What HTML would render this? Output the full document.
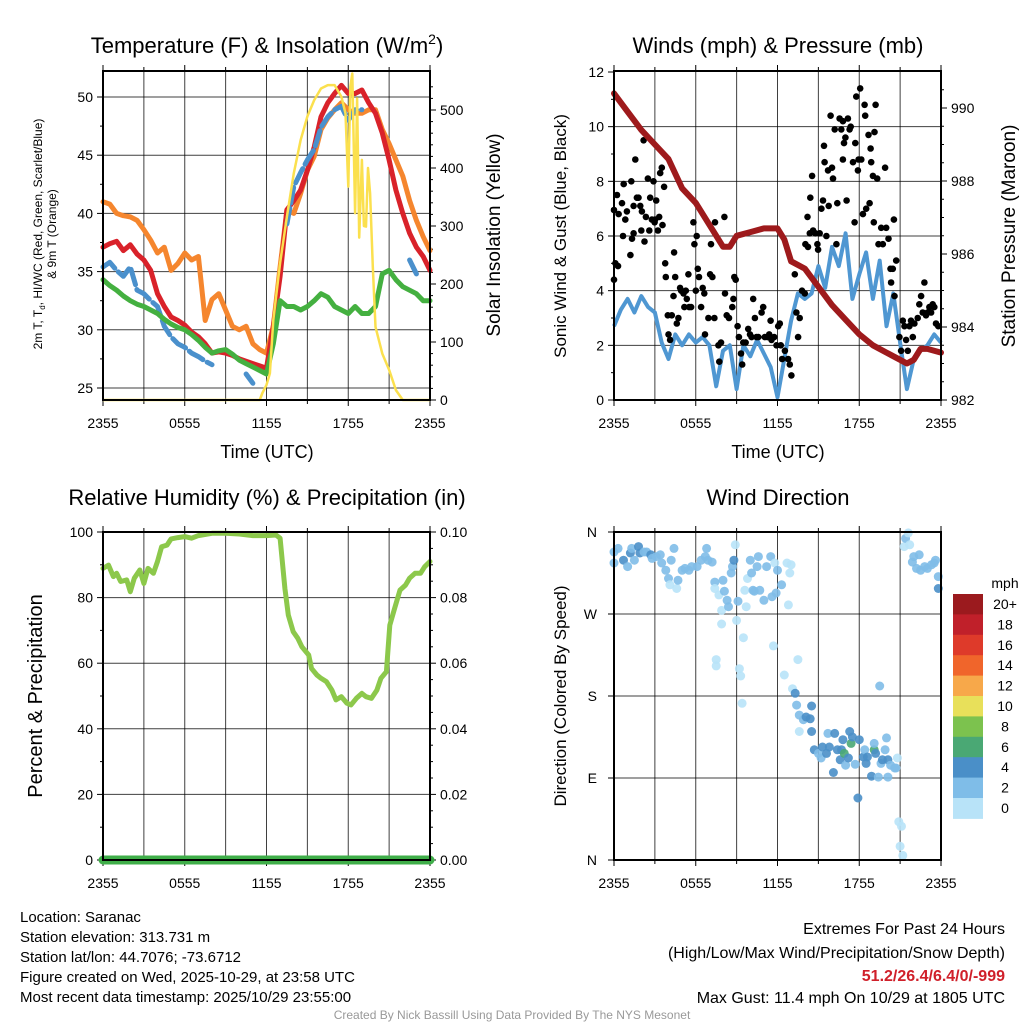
<!DOCTYPE html>
<html><head><meta charset="utf-8"><style>
html,body{margin:0;padding:0;background:#fff;}
svg{display:block;font-family:"Liberation Sans",Arial,sans-serif;}
</style></head><body>
<svg id="chart" width="1024" height="1024" viewBox="0 0 1024 1024" xmlns="http://www.w3.org/2000/svg">
<rect x="0" y="0" width="1024" height="1024" fill="#fff"/>
<text x="267" y="53" font-size="22" text-anchor="middle">Temperature (F) &amp; Insolation (W/m<tspan font-size="14" dy="-9">2</tspan><tspan dy="9">)</tspan></text>
<text x="778" y="53" font-size="22" text-anchor="middle">Winds (mph) &amp; Pressure (mb)</text>
<text x="267" y="505" font-size="22" text-anchor="middle">Relative Humidity (%) &amp; Precipitation (in)</text>
<text x="778" y="505" font-size="22" text-anchor="middle">Wind Direction</text>
<text x="267" y="458" font-size="18" text-anchor="middle">Time (UTC)</text>
<text x="778" y="458" font-size="18" text-anchor="middle">Time (UTC)</text>
<text transform="translate(42,234) rotate(-90)" font-size="12" text-anchor="middle">2m T, T<tspan font-size="8" dy="3">d</tspan><tspan dy="-3">, HI/WC (Red, Green, Scarlet/Blue)</tspan></text>
<text transform="translate(56,234) rotate(-90)" font-size="12" text-anchor="middle">&amp; 9m T (Orange)</text>
<text transform="translate(500,235) rotate(-90)" font-size="19" text-anchor="middle">Solar Insolation (Yellow)</text>
<text transform="translate(566,236) rotate(-90)" font-size="17" text-anchor="middle">Sonic Wind &amp; Gust (Blue, Black)</text>
<text transform="translate(1015,236) rotate(-90)" font-size="19" text-anchor="middle">Station Pressure (Maroon)</text>
<text transform="translate(42,696) rotate(-90)" font-size="20" text-anchor="middle">Percent &amp; Precipitation</text>
<text transform="translate(566,696) rotate(-90)" font-size="17" text-anchor="middle">Direction (Colored By Speed)</text>
<g font-size="15">
<text x="20" y="922">Location: Saranac</text>
<text x="20" y="942">Station elevation: 313.731 m</text>
<text x="20" y="962">Station lat/lon: 44.7076; -73.6712</text>
<text x="20" y="982">Figure created on Wed, 2025-10-29, at 23:58 UTC</text>
<text x="20" y="1002">Most recent data timestamp: 2025/10/29 23:55:00</text>
</g>
<g font-size="16" text-anchor="end">
<text x="1005" y="934">Extremes For Past 24 Hours</text>
<text x="1005" y="958">(High/Low/Max Wind/Precipitation/Snow Depth)</text>
<text x="1005" y="981" fill="#d0202a" font-weight="bold">51.2/26.4/6.4/0/-999</text>
<text x="1005" y="1003">Max Gust: 11.4 mph On 10/29 at 1805 UTC</text>
</g>
<text x="512" y="1019" font-size="12" fill="#999" text-anchor="middle">Created By Nick Bassill Using Data Provided By The NYS Mesonet</text>
<g id="layer"></g>
</svg>
<script>
// ---------- data ----------
const halfHours = [0,0.5,1,1.5,2,2.5,3,3.5,4,4.5,5,5.5,6,6.5,7,7.5,8,8.5,9,9.5,10,10.5,11,11.5,12,12.5,13,13.5,14,14.5,15,15.5,16,16.5,17,17.5,18,18.5,19,19.5,20,20.5,21,21.5,22,22.5,23,23.5,24];
const timeTickLabels = ["2355","0555","1155","1755","2355"];
const tempRed = [37.1,37.4,37.6,36.8,37.3,36.5,36.0,35.1,33.1,32.0,31.1,30.8,30.4,29.8,29.4,28.8,28.0,28.1,28.0,27.8,27.5,27.3,27.1,26.9,26.7,30.3,34.6,40.3,41.1,42.0,43.7,45.7,48.3,49.5,50.3,51.0,50.3,50.3,50.6,49.5,48.6,46.9,44.6,42.0,40.0,38.3,37.1,36.3,35.1];
const temp9mOrange = [41.0,40.8,40.0,39.8,39.7,39.4,38.6,37.7,36.6,37.1,35.1,35.7,36.6,36.0,36.3,30.8,32.6,33.1,31.7,30.3,30.0,30.3,28.8,28.3,28.0,30.3,35.4,40.3,40.0,41.7,43.7,44.9,47.2,48.2,48.9,49.5,48.9,48.6,48.6,48.9,48.9,47.2,46.0,44.6,43.2,41.1,39.4,38.0,36.8];
const dewGreen = [34.3,33.8,33.4,32.9,32.5,32.2,32.0,31.7,31.4,30.9,30.5,30.2,30.0,29.6,29.1,28.5,28.0,28.2,28.3,27.9,27.4,27.1,26.8,26.5,26.2,28.8,32.5,32.0,32.0,31.7,32.0,32.5,33.1,32.8,32.0,31.7,31.4,32.0,31.4,31.4,32.0,34.8,35.1,34.3,33.7,33.4,33.1,32.5,32.5];
const hiwcBlue = [35.4,35.8,35.1,34.6,35.4,33.4,33.1,32.5,32.0,30.3,29.4,28.8,28.5,28.0,27.7,27.3,27.0,null,null,null,null,26.2,25.4,null,null,null,null,39.1,42.3,43.5,44.6,45.5,47.4,48.3,48.9,49.2,48.0,48.9,48.9,null,null,null,null,null,null,36.0,34.8,null,null];
const solarHours = [0,11.5,11.7,12,12.25,12.5,13,13.5,14,14.5,15,15.5,16,16.5,17,17.5,17.8,18,18.15,18.3,18.5,18.65,18.8,19,19.15,19.3,19.45,19.6,19.8,20,20.5,21,21.5,22,24];
const solarVals = [0,0,12,26,46,138,236,316,391,448,489,517,537,543,543,523,494,368,540,563,322,520,280,414,300,299,400,356,230,126,80,52,17,0,0];
const tempTicks = [25,30,35,40,45,50];
const solarTicks = [0,100,200,300,400,500];

const windBlue = [2.7,3.3,3.7,3.2,3.8,3.4,3.2,2.1,1.5,2.4,2.0,2.4,2.1,2.3,2.0,0.5,1.8,2.0,0.4,2.0,1.6,2.2,1.7,1.2,0.1,1.5,2.9,3.9,3.7,3.9,4.9,4.1,5.6,4.9,6.1,3.7,4.6,5.4,3.7,5.1,2.7,3.9,2.1,0.4,1.5,1.8,2.0,2.4,2.1];
const pressHours = [0,1,2,3,4,5,6,7,8,8.5,9,10,11,12,12.5,13,14,15,16,17,18,19,20,21,21.5,22,22.5,23,24];
const pressVals = [990.4,989.9,989.4,989.0,988.6,987.8,987.4,986.8,986.2,986.2,986.5,986.6,986.7,986.7,986.4,985.8,985.6,985.1,984.6,984.2,983.8,983.5,983.3,983.1,983.0,983.1,983.4,983.4,983.3];
const gustHours = [0.0,0.0,0.1,0.29,0.22,0.34,0.59,0.71,0.66,0.83,0.95,1.2,1.27,1.32,1.44,1.44,1.56,1.68,1.8,1.93,2.05,2.0,2.17,2.24,2.34,2.49,2.59,2.66,2.78,2.9,2.98,3.02,3.1,3.22,3.32,3.39,3.51,3.56,3.68,3.76,3.8,4.0,3.95,4.12,4.24,4.37,4.41,4.49,4.61,4.73,4.85,4.93,5.1,5.17,5.27,5.34,5.46,5.51,5.66,5.83,5.9,6.0,6.07,6.15,6.24,6.39,6.51,6.63,6.68,6.93,7.05,7.12,7.22,7.37,7.41,7.66,7.73,7.85,8.1,8.15,8.27,8.44,8.68,8.76,8.83,8.93,9.07,9.17,9.32,9.41,9.49,9.66,9.85,9.98,10.1,10.22,10.34,10.46,10.59,10.83,10.95,11.07,11.27,11.39,11.49,11.56,11.76,11.93,12.05,12.17,12.24,12.34,12.54,12.78,12.9,13.02,13.27,13.39,13.51,13.63,13.8,14.0,14.05,14.2,14.24,14.37,14.41,14.54,14.61,14.78,14.93,14.98,15.1,15.22,15.34,15.41,15.46,15.59,15.71,15.76,15.9,16.0,16.07,16.2,16.32,16.39,16.56,16.68,16.8,16.8,16.88,16.98,17.07,17.17,17.29,17.37,17.54,17.66,17.71,17.78,17.9,17.95,18.07,18.15,18.27,18.39,18.44,18.51,18.68,18.76,18.83,18.88,19.0,19.07,19.2,19.12,19.32,19.41,19.61,19.73,19.9,19.98,20.15,20.29,20.34,20.46,20.54,20.59,20.71,20.95,21.07,21.2,21.32,21.44,21.56,21.68,21.8,21.93,22.05,22.29,22.41,22.54,22.66,22.78,22.9,23.02,23.15,23.27,23.39,23.51,23.63,23.8];
const gustVals = [6.95,4.4,5.0,4.9,7.5,6.8,7.2,7.9,6.0,6.6,6.9,5.3,8.0,5.9,7.1,6.1,8.8,7.4,7.4,7.1,6.9,6.2,9.5,5.8,6.7,8.1,6.2,7.4,6.6,8.0,6.5,6.6,7.3,6.2,6.7,8.3,8.5,6.4,7.8,5.0,4.5,2.4,3.1,2.2,3.1,3.8,5.4,4.5,2.8,3.0,4.1,4.0,3.9,3.4,4.0,3.7,4.6,3.4,3.4,6.5,5.7,4.0,6.0,4.8,4.5,3.4,4.1,3.9,2.4,3.0,4.6,5.7,4.5,3.0,6.5,2.0,1.4,2.1,6.7,3.9,3.1,3.0,3.4,3.7,4.5,4.4,2.7,2.3,1.7,1.3,2.1,2.1,2.6,2.4,2.3,3.7,3.0,2.3,2.3,3.2,3.4,2.3,2.3,2.4,2.9,2.2,2.3,2.0,2.7,2.8,2.0,1.5,1.8,1.5,1.3,0.9,4.6,3.2,2.3,3.0,4.0,3.9,5.7,6.7,5.6,6.1,7.4,8.2,6.2,6.1,5.7,5.5,6.1,7.0,7.3,9.3,8.7,6.0,8.4,7.1,10.4,8.5,8.1,9.9,5.7,7.2,10.3,9.9,10.2,8.8,9.4,9.6,7.3,10.3,9.9,10.0,8.7,6.5,9.4,11.1,8.4,8.8,11.4,8.8,6.8,10.8,10.4,7.0,9.7,7.2,9.2,8.7,8.2,6.5,10.8,9.8,8.1,5.7,6.3,5.7,8.5,6.3,5.9,4.8,4.3,4.8,6.6,3.8,5.1,2.3,1.8,2.9,2.7,2.2,1.8,2.7,2.9,2.3,2.8,3.0,3.5,3.8,3.2,4.3,3.1,3.2,3.4,3.2,3.5,3.4,2.8,2.7];
const windTicks = [0,2,4,6,8,10,12];
const pressTicks = [982,984,986,988,990];

const rhHours = [0,0.4,0.76,1.0,1.3,1.74,2.0,2.3,2.7,3.0,3.3,3.7,4.0,4.3,4.7,5.0,5.5,6.0,6.5,7.0,8.0,9.0,10.0,11.0,12.0,12.7,13.0,13.35,13.6,13.96,14.3,14.6,15.1,15.3,15.7,16.0,16.4,16.8,17.1,17.5,17.9,18.2,18.6,19.0,19.3,19.7,20.1,20.4,20.8,21.05,21.4,21.8,22.2,22.5,22.9,23.3,23.6,24.0];
const rhVals = [88.9,89.9,86.4,87.4,84.9,85.4,81.8,85.9,88.4,84.3,88.9,87.4,91.0,95.5,96.0,97.9,98.3,98.6,98.1,98.9,99.6,99.6,99.4,98.9,98.9,99.1,98.1,82.8,74.7,69.6,67.6,65.0,62.5,58.4,56.4,55.4,54.4,51.8,48.8,49.8,47.8,47.3,49.3,50.8,49.8,49.3,51.8,55.4,57.4,71.6,76.7,82.3,83.8,85.9,87.4,87.4,89.4,91.0];
const precipHours = [0,24];
const precipVals = [0,0];
const rhTicks = [0,20,40,60,80,100];
const precipTickLabels = ["0.00","0.02","0.04","0.06","0.08","0.10"];

const dirHours = [0.0,0.0,0.3,0.7,1.0,1.2,1.3,1.5,1.8,1.9,2.2,2.4,2.7,2.8,3.1,3.4,3.5,3.8,4.0,4.1,4.2,4.4,4.6,4.7,5.0,5.2,5.5,5.7,6.1,6.4,6.7,6.8,6.9,7.2,7.4,7.4,7.7,7.9,8.0,8.1,8.3,8.4,7.9,7.5,7.5,8.6,8.7,8.8,8.9,9.0,9.1,9.2,9.3,9.4,9.5,9.6,9.7,9.8,10.0,10.1,10.2,10.3,10.5,10.6,10.7,11.0,11.2,11.5,11.6,11.7,11.8,11.9,12.0,12.3,12.5,12.7,12.8,12.9,13.0,13.1,13.3,13.5,13.4,13.6,13.6,13.9,14.1,14.4,14.5,14.5,14.7,15.0,15.2,15.3,15.6,15.7,15.8,16.1,16.2,16.4,16.6,16.7,16.8,16.9,17.0,17.2,17.3,17.4,17.5,17.7,17.9,18.0,18.3,18.4,18.5,18.6,18.9,19.1,19.1,19.2,19.4,19.5,19.6,19.7,19.9,20.0,20.1,20.1,20.3,20.6,20.7,20.8,20.9,21.1,21.0,21.2,21.3,21.4,21.6,21.7,21.9,22.0,22.2,22.4,22.5,22.8,23.0,23.3,23.5,23.6,23.8,23.8];
const dirDeg = [338,326,342,329,322,337,342,329,344,337,338,338,335,331,333,335,326,318,309,302,329,342,298,307,318,320,318,322,322,329,333,342,329,327,305,298,291,274,307,295,285,278,259,220,213,315,322,329,346,263,284,210,202,172,244,296,278,309,329,315,296,295,322,333,296,285,322,333,289,235,326,293,318,302,203,326,280,315,324,188,183,220,170,159,141,154,157,155,169,141,121,117,112,124,117,139,124,96,139,121,110,121,132,117,104,112,141,128,135,105,68,132,113,121,106,113,92,121,128,117,91,191,106,110,121,134,110,91,104,101,101,112,42,37,15,5,344,353,359,346,327,333,320,335,318,322,320,324,326,329,311,298];
const dirSpeed = [3,3,3,5,3,5,3,3,5,5,3,3,5,3,3,3,3,3,3,1,3,3,1,3,3,3,3,3,3,3,3,3,3,3,3,1,1,1,3,3,3,3,1,1,1,3,3,5,1,1,3,1,1,1,1,1,1,1,3,3,3,3,3,3,3,3,3,3,3,1,1,3,3,3,1,1,1,1,1,1,5,1,3,3,1,3,5,5,5,5,5,3,3,5,5,3,5,5,5,5,5,5,5,7,3,5,5,7,5,3,5,5,5,3,5,5,5,7,3,5,3,3,3,5,3,3,5,3,3,3,3,1,1,1,1,1,1,3,1,1,3,3,3,3,3,3,3,3,3,3,3,5];
const dirTickLabels = ["N","E","S","W","N"];
const speedBinLabels = ["0","2","4","6","8","10","12","14","16","18","20+"];
const speedColors = ["#b8e3f8","#7fbde8","#4a8fc8","#4aa874","#7cc24e","#e8e05a","#f7a84a","#f0652b","#de3a2a","#c0202a","#9b1a1e"];

// ---------- helpers ----------
const NS = "http://www.w3.org/2000/svg";
const layer = document.getElementById("layer");
function mk(tag, name, attrs, parent) {
  const e = document.createElementNS(NS, tag);
  
  
  for (const k in attrs) e.setAttribute(k, attrs[k]);
  (parent || layer).appendChild(e);
  return e;
}
function txt(name, x, y, s, size, anchor, parent) {
  const t = mk("text", name, {x: x, y: y, "font-size": size, "text-anchor": anchor}, parent);
  t.textContent = s;
  return t;
}
function linScale(d0, d1, r0, r1) { return v => r0 + (v - d0) * (r1 - r0) / (d1 - d0); }
function pathFrom(xs, ys, sx, sy) {
  let d = "", pen = false;
  for (let i = 0; i < xs.length; i++) {
    if (ys[i] === null) { pen = false; continue; }
    d += (pen ? "L" : "M") + sx(xs[i]).toFixed(1) + "," + sy(ys[i]).toFixed(1);
    pen = true;
  }
  return d;
}

const TOP = {y0: 71, y1: 400}, BOT = {y0: 532, y1: 860};
const P1 = {x0: 103, x1: 430}, P2 = {x0: 614, x1: 941};

function panelFrame(prefix, px, py, sx) {
  // vertical grid every 3 h
  for (let h = 3; h < 24; h += 3) {
    mk("line", prefix + "-vgrid", {x1: sx(h), x2: sx(h), y1: py.y0, y2: py.y1, stroke: "#000", "stroke-width": 1, opacity: 0.75});
  }
  // x ticks and labels
  for (let i = 0; i < timeTickLabels.length; i++) {
    const x = sx(i * 6);
    mk("line", prefix + "-x-tick", {x1: x, x2: x, y1: py.y1, y2: py.y1 + 6, stroke: "#000", "stroke-width": 1});
    mk("line", prefix + "-x-tick-top", {x1: x, x2: x, y1: py.y0, y2: py.y0 - 6, stroke: "#000", "stroke-width": 1});
    txt(prefix + "-x-tick-label", x, py.y1 + 28, timeTickLabels[i], 14, "middle");
  }
  for (let h = 3; h < 24; h += 6) {
    mk("line", prefix + "-x-minor-tick", {x1: sx(h), x2: sx(h), y1: py.y1, y2: py.y1 + 4, stroke: "#000", "stroke-width": 1});
    mk("line", prefix + "-x-minor-tick-top", {x1: sx(h), x2: sx(h), y1: py.y0, y2: py.y0 - 4, stroke: "#000", "stroke-width": 1});
  }
}
function hgrid(prefix, px, y) {
  mk("line", prefix + "-hgrid", {x1: px.x0, x2: px.x1, y1: y, y2: y, stroke: "#000", "stroke-width": 1, opacity: 0.75});
}
function leftTick(prefix, px, y, major) {
  mk("line", prefix + "-left-tick", {x1: px.x0, x2: px.x0 - (major ? 6 : 3), y1: y, y2: y, stroke: "#000", "stroke-width": 1});
}
function rightTick(prefix, px, y, major) {
  mk("line", prefix + "-right-tick", {x1: px.x1, x2: px.x1 + (major ? 6 : 3), y1: y, y2: y, stroke: "#000", "stroke-width": 1});
}
function border(prefix, px, py) {
  mk("rect", prefix + "-plot-frame", {x: px.x0, y: py.y0, width: px.x1 - px.x0, height: py.y1 - py.y0, fill: "none", stroke: "#000", "stroke-width": 2});
}

// ---------- Panel 1: temperature ----------
const x1s = linScale(0, 24, P1.x0, P1.x1);
const yT = linScale(25, 50, 388, 97);
const yS = linScale(0, 500, 400, 110);
panelFrame("temp", P1, TOP, x1s);
tempTicks.forEach(v => { hgrid("temp", P1, yT(v)); leftTick("temp", P1, yT(v), true); txt("temp-y-tick-label", P1.x0 - 10, yT(v) + 5, String(v), 14, "end"); });
for (let v = 27.5; v < 52; v += 5) leftTick("temp", P1, yT(v), false);
solarTicks.forEach(v => { rightTick("temp", P1, yS(v), true); txt("solar-y-tick-label", P1.x1 + 10, yS(v) + 5, String(v), 14, "start"); });
for (let v = 20; v < 550; v += 20) if (v % 100) rightTick("temp", P1, yS(v), false);
mk("path", "temp-9m-orange-line", {d: pathFrom(halfHours, temp9mOrange, x1s, yT), fill: "none", stroke: "#f5862e", "stroke-width": 5, "stroke-linejoin": "round", "stroke-linecap": "round"});
mk("path", "temp-2m-red-line", {d: pathFrom(halfHours, tempRed, x1s, yT), fill: "none", stroke: "#d9222a", "stroke-width": 5, "stroke-linejoin": "round", "stroke-linecap": "round"});
mk("path", "hiwc-blue-line", {d: pathFrom(halfHours, hiwcBlue, x1s, yT), fill: "none", stroke: "#4a90cc", "stroke-width": 5, "stroke-linejoin": "round", "stroke-linecap": "round", "stroke-dasharray": "16 5"});
mk("path", "dewpoint-green-line", {d: pathFrom(halfHours, dewGreen, x1s, yT), fill: "none", stroke: "#44b040", "stroke-width": 5, "stroke-linejoin": "round", "stroke-linecap": "round"});
mk("path", "solar-yellow-line", {d: pathFrom(solarHours, solarVals, x1s, yS), fill: "none", stroke: "#fbe04e", "stroke-width": 2.5, "stroke-linejoin": "round"});
border("temp", P1, TOP);

// ---------- Panel 2: wind & pressure ----------
const x2s = linScale(0, 24, P2.x0, P2.x1);
const yW = linScale(0, 12, 400, 72);
const yP = linScale(982, 990, 400, 108);
panelFrame("wind", P2, TOP, x2s);
windTicks.forEach(v => { if (v > 0 && v < 12) hgrid("wind", P2, yW(v)); leftTick("wind", P2, yW(v), true); txt("wind-y-tick-label", P2.x0 - 10, yW(v) + 5, String(v), 14, "end"); });
for (let v = 1; v < 12; v += 2) leftTick("wind", P2, yW(v), false);
pressTicks.forEach(v => { rightTick("wind", P2, yP(v), true); txt("pressure-y-tick-label", P2.x1 + 10, yP(v) + 5, String(v), 14, "start"); });
for (let v = 982.5; v < 990.9; v += 0.5) if (v % 2) rightTick("wind", P2, yP(v), false);
mk("path", "sonic-wind-blue-line", {d: pathFrom(halfHours, windBlue, x2s, yW), fill: "none", stroke: "#4f97d2", "stroke-width": 4, "stroke-linejoin": "round"});
for (let i = 0; i < gustHours.length; i++) {
  const c = mk("circle", "gust-point", {cx: x2s(gustHours[i]).toFixed(1), cy: yW(gustVals[i]).toFixed(1), r: 3.3, fill: "#000"});
}
mk("path", "pressure-maroon-line", {d: pathFrom(pressHours, pressVals, x2s, yP), fill: "none", stroke: "#9e1a1c", "stroke-width": 6, "stroke-linejoin": "round", "stroke-linecap": "round"});
border("wind", P2, TOP);

// ---------- Panel 3: RH & precip ----------
const yRH = linScale(0, 100, 860, 532);
panelFrame("rh", P1, BOT, x1s);
rhTicks.forEach((v, i) => {
  if (v > 0 && v < 100) hgrid("rh", P1, yRH(v));
  leftTick("rh", P1, yRH(v), true); rightTick("rh", P1, yRH(v), true);
  txt("rh-y-tick-label", P1.x0 - 10, yRH(v) + 5, String(v), 14, "end");
  txt("precip-y-tick-label", P1.x1 + 10, yRH(v) + 5, precipTickLabels[i], 14, "start");
});
for (let v = 10; v < 100; v += 20) leftTick("rh", P1, yRH(v), false);
for (let v = 5; v < 100; v += 5) if (v % 20) rightTick("rh", P1, yRH(v), false);
mk("path", "rh-line", {d: pathFrom(rhHours, rhVals, x1s, yRH), fill: "none", stroke: "#8cc84b", "stroke-width": 5, "stroke-linejoin": "round", "stroke-linecap": "round"});
const yPr = linScale(0, 0.1, 860, 532);
mk("path", "precip-line", {d: pathFrom(precipHours, precipVals, x1s, yPr), fill: "none", stroke: "#3fae49", "stroke-width": 9, "stroke-linecap": "round"});
border("rh", P1, BOT);

// ---------- Panel 4: wind direction ----------
const yD = linScale(0, 360, 860, 532);
panelFrame("dir", P2, BOT, x2s);
dirTickLabels.forEach((s, i) => {
  const y = yD(i * 90);
  if (i > 0 && i < 4) hgrid("dir", P2, y);
  leftTick("dir", P2, y, true);
  txt("direction-tick-label", P2.x0 - 17, y + 5, s, 14, "end");
});
function speedColor(v) { return speedColors[Math.min(10, Math.max(0, Math.floor(v / 2)))]; }
for (let i = 0; i < dirHours.length; i++) {
  mk("circle", "direction-point", {cx: x2s(dirHours[i]).toFixed(1), cy: yD(dirDeg[i]).toFixed(1), r: 4.5, fill: speedColor(dirSpeed[i]), "fill-opacity": 0.9});
}
border("dir", P2, BOT);

// colorbar
const cbTop = 594, cbH = 20.4;
txt("colorbar-unit-label", 1005, 588, "mph", 14, "middle");
for (let i = 0; i < speedBinLabels.length; i++) {
  const k = speedBinLabels.length - 1 - i;
  mk("rect", "colorbar-swatch", {x: 953, y: (cbTop + i * cbH).toFixed(1), width: 30, height: cbH + 0.5, fill: speedColors[k]});
  txt("colorbar-label", 1005, (cbTop + i * cbH + 15).toFixed(1), speedBinLabels[k], 14, "middle");
}
</script>
</body></html>
